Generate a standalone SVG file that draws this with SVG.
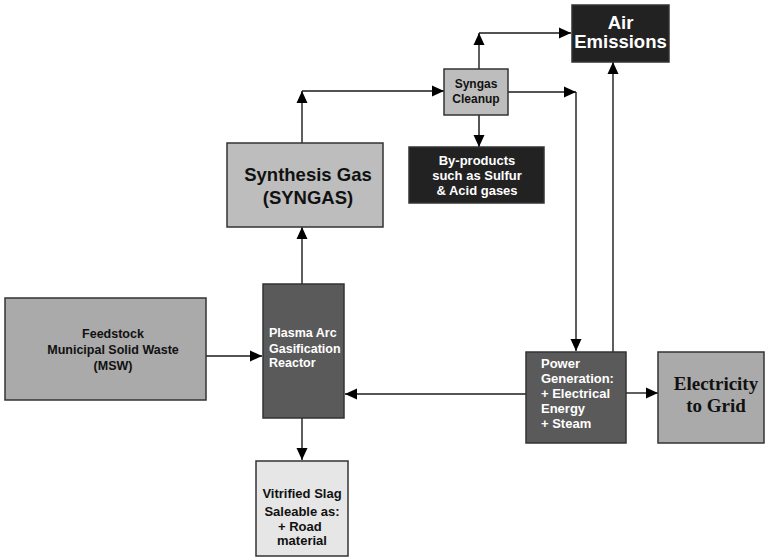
<svg xmlns="http://www.w3.org/2000/svg" width="766" height="557" viewBox="0 0 766 557">
  <defs>
    <marker id="arrow" markerUnits="userSpaceOnUse" markerWidth="12" markerHeight="12" viewBox="0 0 12 12" refX="12" refY="6" orient="auto">
      <path d="M0,0.5 L12,6 L0,11.5 Z" fill="#000"/>
    </marker>
    <style>
      .box { stroke: #333; stroke-width: 1.5; }
      .black { fill: #222222; }
      .dark { fill: #5a5a5a; }
      .mid { fill: #aaaaaa; }
      .light { fill: #bdbdbd; }
      .pale { fill: #e6e6e6; }
      .t { font-family: "Liberation Sans", Arial, sans-serif; font-weight: bold; }
      .tw { fill: #ffffff; }
      .tk { fill: #111111; }
      .serif { font-family: "Liberation Serif", "Times New Roman", serif; font-weight: bold; fill: #111111; }
      .conn path { fill: none; stroke: #1a1a1a; stroke-width: 1.4; }
      .conn path.grey { stroke: #555555; stroke-width: 2; }
    </style>
  </defs>

  <rect width="766" height="557" fill="#ffffff"/>

  <!-- connectors -->
  <g class="conn">
    <path d="M206,356 L262,356" marker-end="url(#arrow)"/>
    <path d="M302,284 L302,227" marker-end="url(#arrow)"/>
    <path d="M302,143 L302,91" marker-end="url(#arrow)"/>
    <path d="M302,91 L444,91" marker-end="url(#arrow)"/>
    <path d="M479,69 L479,33" marker-end="url(#arrow)"/>
    <path d="M479,33 L571,33" marker-end="url(#arrow)"/>
    <path d="M508,92 L576,92" marker-end="url(#arrow)"/>
    <path d="M576,92 L576,351" marker-end="url(#arrow)"/>
    <path class="grey" d="M479,115 L479,147" marker-end="url(#arrow)"/>
    <path d="M613,352 L613,62" marker-end="url(#arrow)"/>
    <path class="grey" d="M526,394 L345,394" marker-end="url(#arrow)"/>
    <path d="M626,393 L658,393" marker-end="url(#arrow)"/>
    <path d="M302,418 L302,460" marker-end="url(#arrow)"/>
  </g>

  <!-- nodes -->
  <g id="air-emissions">
    <rect class="box black" x="572" y="5" width="97" height="57"/>
    <text class="t tw" x="620.5" y="29" font-size="18.5" text-anchor="middle">Air</text>
    <text class="t tw" x="620.5" y="48" font-size="18.5" text-anchor="middle">Emissions</text>
  </g>

  <g id="syngas-cleanup">
    <rect class="box light" x="444" y="69" width="64" height="46"/>
    <text class="t tk" x="476" y="88" font-size="12" text-anchor="middle">Syngas</text>
    <text class="t tk" x="476" y="103" font-size="12" text-anchor="middle">Cleanup</text>
  </g>

  <g id="by-products">
    <rect class="box black" x="409" y="147" width="135" height="56"/>
    <text class="t tw" x="477" y="165" font-size="13" text-anchor="middle">By-products</text>
    <text class="t tw" x="477" y="180" font-size="13" text-anchor="middle">such as Sulfur</text>
    <text class="t tw" x="477" y="195" font-size="13" text-anchor="middle">&amp; Acid gases</text>
  </g>

  <g id="synthesis-gas">
    <rect class="box light" x="227" y="143" width="156" height="84"/>
    <text class="t tk" x="308" y="181" font-size="18.5" text-anchor="middle">Synthesis Gas</text>
    <text class="t tk" x="308" y="204" font-size="18.5" text-anchor="middle">(SYNGAS)</text>
  </g>

  <g id="feedstock">
    <rect class="box mid" x="5" y="298" width="201" height="102"/>
    <text class="t tk" x="113" y="338" font-size="12.5" text-anchor="middle">Feedstock</text>
    <text class="t tk" x="113" y="354" font-size="12.5" text-anchor="middle">Municipal Solid Waste</text>
    <text class="t tk" x="113" y="370" font-size="12.5" text-anchor="middle">(MSW)</text>
  </g>

  <g id="reactor">
    <rect class="box dark" x="263" y="284" width="81" height="134"/>
    <text class="t tw" x="269" y="337" font-size="12.5">Plasma Arc</text>
    <text class="t tw" x="269" y="353" font-size="12.5">Gasification</text>
    <text class="t tw" x="269" y="367" font-size="12.5">Reactor</text>
  </g>

  <g id="vitrified-slag">
    <rect class="box pale" x="256" y="461" width="92" height="95"/>
    <text class="t tk" x="302" y="498" font-size="13" text-anchor="middle">Vitrified Slag</text>
    <text class="t tk" x="302" y="516" font-size="13" text-anchor="middle">Saleable as:</text>
    <text class="t tk" x="278" y="531" font-size="13">+ Road</text>
    <text class="t tk" x="302" y="545" font-size="13" text-anchor="middle">material</text>
  </g>

  <g id="power-generation">
    <rect class="box dark" x="526" y="352" width="100" height="91"/>
    <text class="t tw" x="541" y="368" font-size="13">Power</text>
    <text class="t tw" x="541" y="383" font-size="13">Generation:</text>
    <text class="t tw" x="541" y="398" font-size="13">+ Electrical</text>
    <text class="t tw" x="541" y="413" font-size="13">Energy</text>
    <text class="t tw" x="541" y="428" font-size="13">+ Steam</text>
  </g>

  <g id="electricity-grid">
    <rect class="box mid" x="658" y="352" width="106" height="91"/>
    <text class="serif" x="716" y="390" font-size="19" text-anchor="middle">Electricity</text>
    <text class="serif" x="716" y="412" font-size="19" text-anchor="middle">to Grid</text>
  </g>
</svg>
